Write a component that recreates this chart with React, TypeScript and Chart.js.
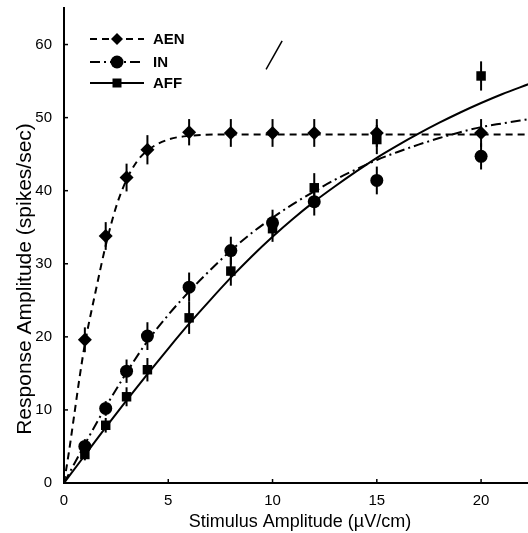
import React, { useEffect, useRef } from "react";
import { Chart, registerables } from "chart.js";

Chart.register(...registerables);

// ---- Data ----
const stimulus = [1, 2, 3, 4, 6, 8, 10, 12, 15, 20];

const aenValues = [19.6, 33.8, 41.8, 45.6, 48.0, 47.9, 47.9, 47.9, 47.9, 47.9];
const aenErrors = [1.7, 1.9, 1.9, 2.0, 1.8, 1.9, 1.9, 1.9, 1.9, 1.9];

const inValues = [5.0, 10.2, 15.3, 20.1, 26.8, 31.8, 35.6, 38.5, 41.4, 44.7];
const inErrors = [1.0, 1.0, 1.6, 1.9, 2.0, 1.9, 1.8, 1.9, 1.9, 1.8];

const affValues = [3.9, 7.9, 11.8, 15.5, 22.6, 29.0, 34.8, 40.4, 47.0, 55.7];
const affErrors = [0.8, 1.0, 1.3, 1.6, 2.2, 2.0, 1.8, 2.0, 2.0, 2.0];

// fitted curves
const aenFitX = [0, 0.25, 0.5, 0.75, 1, 1.5, 2, 2.5, 3, 3.5, 4, 5, 6, 8, 10, 15, 22.3];
const aenFitY = [0, 4.5, 9.5, 14.5, 19, 26, 32.5, 37.8, 41.5, 44, 45.5, 47, 47.5, 47.7, 47.7, 47.7, 47.7];

const inFitX = [0, 1, 2, 3, 4, 5, 6, 7, 8, 9, 10, 11, 12, 13, 14, 15, 16, 17, 18, 19, 20, 21, 22.3];
const inFitY = [0, 5.3, 10.4, 15.1, 19.4, 23.0, 26.2, 29.1, 31.8, 34.2, 36.3, 38.2, 39.9, 41.5, 42.9, 44.2, 45.3, 46.3, 47.2, 48.0, 48.7, 49.2, 49.8];

const affFitX = [0, 1, 2, 3, 4, 5, 6, 7, 8, 9, 10, 11, 12, 13, 14, 15, 16, 17, 18, 19, 20, 21, 22.3];
const affFitY = [0, 3.8, 7.6, 11.3, 14.9, 18.4, 21.8, 25.0, 28.1, 31.0, 33.7, 36.2, 38.5, 40.6, 42.6, 44.5, 46.2, 47.8, 49.3, 50.7, 52.0, 53.2, 54.6];

// stray pen mark in the original figure
const markX = [9.69, 10.46];
const markY = [56.6, 60.5];

const xTicks = [0, 5, 10, 15, 20];
const yTicks = [0, 10, 20, 30, 40, 50, 60];
const xMax = 22.25;
const yMax = 65;

const seriesNames = ["AEN", "IN", "AFF"];
const xTitle = "Stimulus Amplitude (\u00b5V/cm)";
const yTitle = "Response Amplitude (spikes/sec)";

const FONT = "'Liberation Sans', Arial, Helvetica, sans-serif";
const DASH_AEN = [7, 5];
const DASH_IN = [10, 4, 2, 4];

const toPts = (xs: number[], ys: number[]) => xs.map((x, i) => ({ x, y: ys[i] }));

function drawMarker(ctx: CanvasRenderingContext2D, style: string, x: number, y: number, r: number) {
  ctx.beginPath();
  if (style === "diamond") {
    ctx.moveTo(x - r, y);
    ctx.lineTo(x, y - r);
    ctx.lineTo(x + r, y);
    ctx.lineTo(x, y + r);
    ctx.closePath();
  } else if (style === "circle") {
    ctx.arc(x, y, r, 0, Math.PI * 2);
  } else {
    ctx.rect(x - r, y - r, 2 * r, 2 * r);
  }
  ctx.fill();
}

const customPlugin = {
  id: "customFigure",
  beforeDatasetsDraw(chart: any) {
    const ctx = chart.ctx as CanvasRenderingContext2D;
    const ys = chart.scales.y;
    const groups = [
      { idx: 0, vals: aenValues, errs: aenErrors },
      { idx: 1, vals: inValues, errs: inErrors },
      { idx: 2, vals: affValues, errs: affErrors },
    ];
    ctx.save();
    ctx.strokeStyle = "#000";
    ctx.lineWidth = 2;
    groups.forEach((g) => {
      const meta = chart.getDatasetMeta(g.idx);
      meta.data.forEach((el: any, j: number) => {
        const y1 = ys.getPixelForValue(g.vals[j] - g.errs[j]);
        const y2 = ys.getPixelForValue(g.vals[j] + g.errs[j]);
        ctx.beginPath();
        ctx.moveTo(el.x, y1);
        ctx.lineTo(el.x, y2);
        ctx.stroke();
      });
    });
    ctx.restore();
  },
  afterDraw(chart: any) {
    const ctx = chart.ctx as CanvasRenderingContext2D;
    const { left, bottom } = chart.chartArea;
    const xs = chart.scales.x;
    const ys = chart.scales.y;
    ctx.save();
    // inward ticks
    ctx.strokeStyle = "#000";
    ctx.lineWidth = 1.5;
    yTicks.forEach((v) => {
      if (v === 0) return;
      const py = ys.getPixelForValue(v);
      ctx.beginPath();
      ctx.moveTo(left, py);
      ctx.lineTo(left + 4, py);
      ctx.stroke();
    });
    xTicks.forEach((v) => {
      if (v === 0) return;
      const px = xs.getPixelForValue(v);
      ctx.beginPath();
      ctx.moveTo(px, bottom);
      ctx.lineTo(px, bottom - 4);
      ctx.stroke();
    });

    // axis titles
    ctx.fillStyle = "#000";
    ctx.font = `18px ${FONT}`;
    ctx.textAlign = "center";
    ctx.textBaseline = "middle";
    ctx.fillText(xTitle, 300, 522);
    ctx.save();
    ctx.translate(25, 279);
    ctx.rotate(-Math.PI / 2);
    ctx.font = `21px ${FONT}`;
    ctx.fillText(yTitle, 0, 0);
    ctx.restore();

    // legend
    const rows = [
      { y: 39, dash: DASH_AEN, marker: "diamond", r: 6 },
      { y: 62, dash: DASH_IN, marker: "circle", r: 6.5 },
      { y: 83, dash: [] as number[], marker: "square", r: 4.5 },
    ];
    rows.forEach((row, i) => {
      ctx.beginPath();
      ctx.setLineDash(row.dash);
      ctx.lineWidth = 2;
      ctx.moveTo(90, row.y);
      ctx.lineTo(144, row.y);
      ctx.stroke();
      ctx.setLineDash([]);
      drawMarker(ctx, row.marker, 117, row.y, row.r);
      ctx.font = `bold 15px ${FONT}`;
      ctx.textAlign = "left";
      ctx.textBaseline = "middle";
      ctx.fillText(seriesNames[i], 153, row.y + 1);
    });
    ctx.restore();
  },
};

export default function App() {
  const canvasRef = useRef<HTMLCanvasElement | null>(null);

  useEffect(() => {
    const canvas = canvasRef.current;
    if (!canvas) return;
    const lineBase = {
      type: "line" as const,
      pointRadius: 0,
      borderColor: "#000",
      borderWidth: 2,
      fill: false,
      cubicInterpolationMode: "monotone" as const,
    };
    const markerBase = {
      type: "line" as const,
      showLine: false,
      backgroundColor: "#000",
      borderColor: "#000",
      borderWidth: 0,
      pointBorderWidth: 0,
    };
    const chart = new Chart(canvas, {
      type: "line",
      data: {
        datasets: [
          { ...markerBase, label: "AEN points", data: toPts(stimulus, aenValues), pointStyle: "rectRot", pointRadius: 7 },
          { ...markerBase, label: "IN points", data: toPts(stimulus, inValues), pointStyle: "circle", pointRadius: 6.5 },
          { ...markerBase, label: "AFF points", data: toPts(stimulus, affValues), pointStyle: "rect", pointRadius: 6.7 },
          { ...lineBase, label: seriesNames[0], data: toPts(aenFitX, aenFitY), borderDash: DASH_AEN },
          { ...lineBase, label: seriesNames[1], data: toPts(inFitX, inFitY), borderDash: DASH_IN },
          { ...lineBase, label: seriesNames[2], data: toPts(affFitX, affFitY) },
          { ...lineBase, label: "mark", data: toPts(markX, markY), borderWidth: 1.5, cubicInterpolationMode: "default" as const },
        ] as any,
      },
      options: {
        responsive: false,
        animation: false,
        events: [],
        layout: { autoPadding: false, padding: { top: 8, left: 0, right: 0, bottom: 0 } },
        plugins: { legend: { display: false }, tooltip: { enabled: false }, title: { display: false } },
        scales: {
          x: {
            type: "linear",
            min: 0,
            max: xMax,
            grid: { display: false },
            border: { display: true, color: "#000", width: 2 },
            afterFit: (s: any) => { s.height = 50; s.paddingLeft = 0; s.paddingRight = 0; },
            afterBuildTicks: (s: any) => { s.ticks = xTicks.map((v) => ({ value: v })); },
            ticks: { color: "#000", font: { family: FONT, size: 15 }, padding: 1, maxRotation: 0 },
          },
          y: {
            type: "linear",
            min: 0,
            max: yMax,
            grid: { display: false },
            border: { display: true, color: "#000", width: 2 },
            afterFit: (s: any) => { s.width = 64; s.paddingTop = 0; s.paddingBottom = 0; },
            afterBuildTicks: (s: any) => { s.ticks = yTicks.map((v) => ({ value: v })); },
            ticks: { color: "#000", font: { family: FONT, size: 15 }, padding: 4 },
          },
        },
      },
      plugins: [customPlugin],
    });
    return () => chart.destroy();
  }, []);

  return (
    <div style={{ position: "fixed", left: 0, top: 0, width: 528, height: 533, background: "#fff" }}>
      <canvas ref={canvasRef} width={528} height={533} style={{ display: "block" }} />
    </div>
  );
}
